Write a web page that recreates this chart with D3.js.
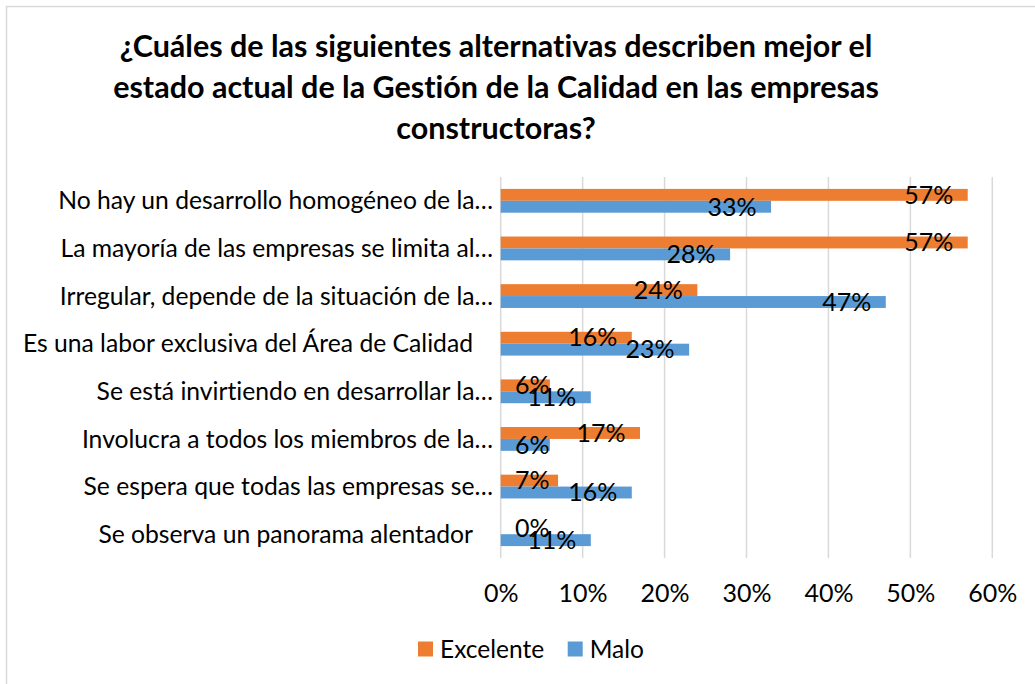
<!DOCTYPE html>
<html>
<head>
<meta charset="utf-8">
<script src="https://cdn.jsdelivr.net/npm/d3@7"></script>
<style>
  html, body { margin: 0; padding: 0; background: #fff; }
  svg { display: block; font-family: Lato, "Open Sans", sans-serif; font-variant-ligatures: none; }
</style>
</head>
<body>
<svg id="chart" width="1035" height="684"></svg>
<script>
// Survey answers, listed top to bottom as shown on the axis
const categories = [
  "No hay un desarrollo homogéneo de la…",
  "La mayoría de las empresas se limita al…",
  "Irregular, depende de la situación de la…",
  "Es una labor exclusiva del Área de Calidad",
  "Se está invirtiendo en desarrollar la…",
  "Involucra a todos los miembros de la…",
  "Se espera que todas las empresas se…",
  "Se observa un panorama alentador"
];
const seriesNames = ["Excelente", "Malo"];
const excelente = [0.57, 0.57, 0.24, 0.16, 0.06, 0.17, 0.07, 0.00];
const malo      = [0.33, 0.28, 0.47, 0.23, 0.11, 0.06, 0.16, 0.11];
const tickValues = [0, 0.1, 0.2, 0.3, 0.4, 0.5, 0.6];
const colors = ["#ED7D31", "#5B9BD5"];
const titleLines = [
  "¿Cuáles de las siguientes alternativas describen mejor el",
  "estado actual de la Gestión de la Calidad en las empresas",
  "constructoras?"
];

const svg = d3.select("#chart");
const W = 1035, H = 684;
const plot = { left: 500.7, right: 992.3, top: 177, bottom: 558 };
const FS = 25;

// Chart-area frame (only the top and left edges fall inside the view)
svg.append("rect")
  .attr("x", 6.5).attr("y", 6.5)
  .attr("width", W + 20).attr("height", H + 20)
  .attr("fill", "#fff").attr("stroke", "#d9d9d9").attr("stroke-width", 1.5);

// Title
svg.append("text")
  .attr("text-anchor", "middle")
  .attr("font-weight", "bold")
  .attr("font-size", 30.5)
  .attr("fill", "#000")
  .selectAll("tspan")
  .data(titleLines)
  .join("tspan")
  .attr("x", 496)
  .attr("y", (d, i) => 57 + i * 41)
  .text(d => d);

const x = d3.scaleLinear().domain([0, 0.6]).range([plot.left, plot.right]);
const y = d3.scaleBand().domain(categories).range([plot.top, plot.bottom]).padding(0);
const barH = y.bandwidth() * 0.25;
const ySub = d3.scaleBand().domain(seriesNames)
  .range([y.bandwidth() / 2 - barH, y.bandwidth() / 2 + barH]);

// Vertical gridlines
svg.append("g")
  .selectAll("line")
  .data(tickValues)
  .join("line")
  .attr("x1", d => x(d)).attr("x2", d => x(d))
  .attr("y1", plot.top).attr("y2", plot.bottom)
  .attr("stroke", "#d9d9d9").attr("stroke-width", 1.5);

// Value axis labels
const xAxis = d3.axisBottom(x).tickValues(tickValues).tickFormat(d3.format(".0%")).tickSize(0).tickPadding(0);
const gx = svg.append("g").attr("transform", `translate(0, ${plot.bottom + 44})`).call(xAxis);
gx.select(".domain").remove();
gx.selectAll("text").attr("font-size", FS).attr("fill", "#000").attr("font-family", "Lato, sans-serif").attr("dy", 0);

// Category axis labels
const yAxis = d3.axisLeft(y).tickSize(0).tickPadding(0);
const gy = svg.append("g").attr("transform", `translate(493, 0)`).call(yAxis);
gy.select(".domain").remove();
gy.selectAll("text")
  .attr("font-size", 24.7).attr("fill", "#000").attr("font-family", "Lato, sans-serif")
  .attr("x", d => d.endsWith("…") ? 0 : -20)
  .attr("dy", "0.35em");

// Bars
const rows = categories.map((c, i) => ({ cat: c, values: [excelente[i], malo[i]] }));
const groups = svg.append("g").selectAll("g")
  .data(rows)
  .join("g")
  .attr("transform", d => `translate(0, ${y(d.cat)})`);

groups.selectAll("rect")
  .data(d => d.values.map((v, k) => ({ v, s: seriesNames[k], k })))
  .join("rect")
  .attr("x", x(0))
  .attr("y", d => ySub(d.s))
  .attr("width", d => x(d.v) - x(0))
  .attr("height", ySub.bandwidth())
  .attr("fill", d => colors[d.k]);

// Data labels near the bar end, kept clear of the axis for short bars
groups.selectAll("text.lbl")
  .data(d => d.values.map((v, k) => ({ v, s: seriesNames[k], k })))
  .join("text")
  .attr("class", "lbl")
  .attr("text-anchor", "middle")
  .attr("font-size", FS)
  .attr("fill", "#000")
  .attr("x", d => Math.max(x(d.v) - 39, x(0) + 31.5))
  .attr("y", d => ySub(d.s) + ySub.bandwidth() / 2)
  .attr("dy", "0.35em")
  .text(d => d3.format(".0%")(d.v));

// Legend
const legend = svg.append("g").attr("transform", "translate(418, 649)");
const legendX = [0, 149.7];
seriesNames.forEach((name, k) => {
  const g = legend.append("g").attr("transform", `translate(${legendX[k]}, 0)`);
  g.append("rect").attr("x", 0).attr("y", -7.5).attr("width", 15).attr("height", 15).attr("fill", colors[k]);
  g.append("text").attr("x", 22).attr("dy", "0.35em").attr("font-size", 24.5).attr("fill", "#000").text(name);
});
</script>
</body>
</html>
